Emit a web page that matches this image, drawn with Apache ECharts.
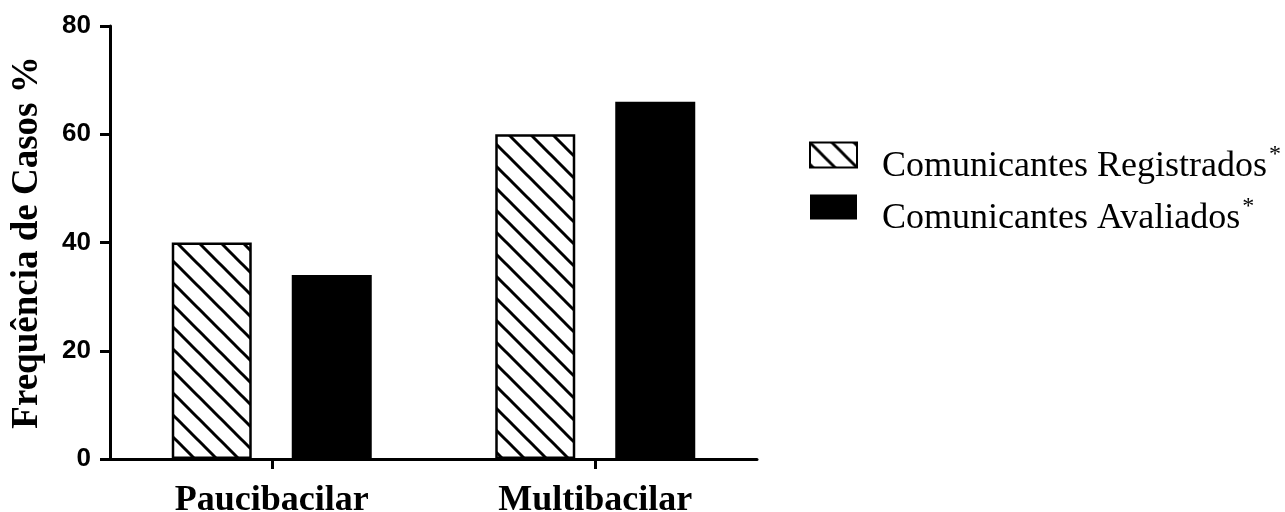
<!DOCTYPE html>
<html>
<head>
<meta charset="utf-8">
<script src="https://cdn.jsdelivr.net/npm/echarts@6/dist/echarts.min.js"></script>
<style>
html,body{margin:0;padding:0;background:#fff;}
#chart{width:1285px;height:512px;}
</style>
</head>
<body>
<div id="chart"></div>
<script>
const categories = ['Paucibacilar', 'Multibacilar'];
const seriesNames = ['Comunicantes Registrados', 'Comunicantes Avaliados'];
const registrados = [40, 60];
const avaliados = [34, 66];
const yTicks = { min: 0, max: 80, interval: 20 };
const yAxisTitle = 'Frequência de Casos %';

function hatchPattern() {
  const s = 22;
  const c = document.createElement('canvas');
  c.width = s; c.height = s;
  const ctx = c.getContext('2d');
  ctx.fillStyle = '#fff';
  ctx.fillRect(0, 0, s, s);
  ctx.strokeStyle = '#000';
  ctx.lineWidth = 3;
  for (let k = -1; k <= 1; k++) {
    ctx.beginPath();
    ctx.moveTo(-2, -2 + k * s);
    ctx.lineTo(s + 2, s + 2 + k * s);
    ctx.stroke();
  }
  return { image: c, repeat: 'repeat' };
}

const chart = echarts.init(document.getElementById('chart'), null, { renderer: 'canvas' });
const serif = '"Liberation Serif", "Times New Roman", serif';
const sans = '"Liberation Sans", Arial, sans-serif';

chart.setOption({
  animation: false,
  backgroundColor: '#fff',
  grid: { left: 110, right: 528, top: 26, bottom: 53, containLabel: false, outerBoundsMode: 'none' },
  legend: {
    orient: 'vertical',
    left: 809,
    top: 119,
    padding: 0,
    itemWidth: 47,
    itemHeight: 25,
    itemGap: -20,
    icon: 'rect',
    data: seriesNames,
    formatter: name => name + '{sup|*}',
    textStyle: {
      fontFamily: serif,
      fontSize: 36,
      lineHeight: 48,
      color: '#000',
      padding: [24, 0, 0, 20],
      rich: {
        sup: { fontFamily: serif, fontSize: 24, lineHeight: 24, color: '#000', padding: [0, 0, 24, 2] }
      }
    }
  },
  xAxis: {
    type: 'category',
    data: categories,
    axisLine: { lineStyle: { color: '#000', width: 3 } },
    axisTick: { show: true, alignWithLabel: true, length: 10, lineStyle: { color: '#000', width: 3 } },
    axisLabel: { fontFamily: serif, fontWeight: 'bold', fontSize: 36, color: '#000', margin: 24 },
    splitLine: { show: false }
  },
  yAxis: {
    type: 'value',
    min: yTicks.min,
    max: yTicks.max,
    interval: yTicks.interval,
    name: yAxisTitle,
    nameLocation: 'middle',
    nameGap: 64,
    nameTextStyle: { fontFamily: serif, fontWeight: 'bold', fontSize: 37, color: '#000' },
    axisLine: { show: true, lineStyle: { color: '#000', width: 3 } },
    axisTick: { show: true, length: 10, lineStyle: { color: '#000', width: 3 } },
    axisLabel: { fontFamily: sans, fontWeight: 'bold', fontSize: 26, color: '#000', margin: 19 },
    splitLine: { show: false }
  },
  series: [
    {
      name: seriesNames[0],
      type: 'bar',
      data: registrados,
      barWidth: 80,
      barGap: '50%',
      itemStyle: { color: hatchPattern(), borderColor: '#000', borderWidth: 2.5 }
    },
    {
      name: seriesNames[1],
      type: 'bar',
      data: avaliados,
      barWidth: 80,
      itemStyle: { color: '#000' }
    }
  ]
});
</script>
</body>
</html>
